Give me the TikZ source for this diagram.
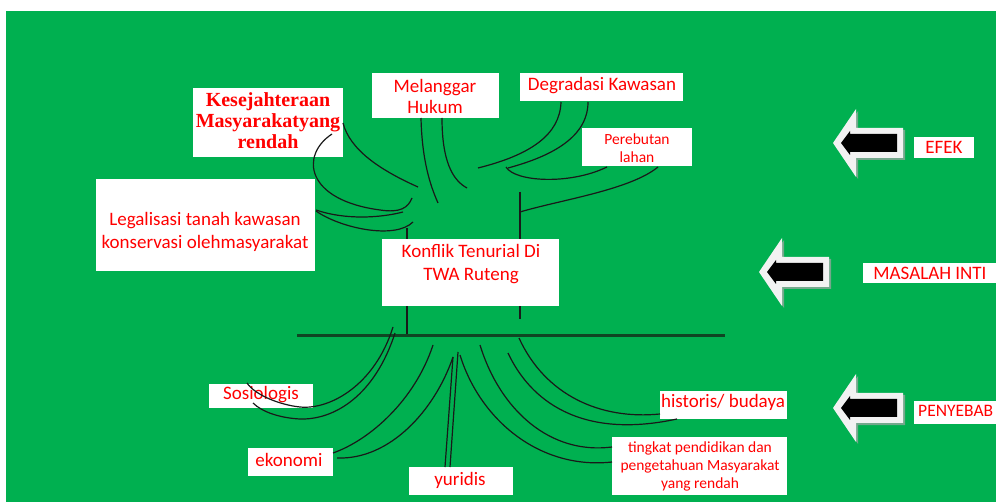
\documentclass[tikz,border=0pt]{standalone}
\usepackage{fontspec}
\setmainfont{Carlito}
\newfontfamily\kesfont{Liberation Serif}
\definecolor{bg}{HTML}{00B050}
\definecolor{txtred}{HTML}{FF0000}
\definecolor{ground}{RGB}{15,70,35}
\definecolor{arrowface}{HTML}{F2F2F2}
\tikzset{
  box/.style={fill=white, inner sep=0pt, anchor=north west},
  lbl/.style={text=txtred, font=\fontsize{19}{21}\selectfont, inner sep=0pt, align=center},
  small/.style={text=txtred, font=\fontsize{15.5}{18}\selectfont, inner sep=0pt, align=center},
  branch/.style={draw=black!90, line width=1.2pt},
  trunk/.style={draw=black!90, line width=1.5pt},
  blockarrow/.pic={
    \fill[black!35, opacity=.7] (2,2) -- (25,-32) -- (25,-13) -- (72,-13) -- (72,17) -- (25,17) -- (25,36) -- cycle;
    \fill[arrowface] (0,0) -- (23,-34) -- (23,-15) -- (70,-15) -- (70,15) -- (23,15) -- (23,34) -- cycle;
    \fill[black] (8,0) -- (17,-12) -- (17,-9) -- (64,-9) -- (64,9) -- (17,9) -- (17,12) -- cycle;
  }
}
\begin{document}
\begin{tikzpicture}[x=1pt,y=-1pt]
\useasboundingbox (0,0) rectangle (996,502);
\clip (0,0) rectangle (996,502);
\fill[white] (0,0) rectangle (996,502);
\fill[bg] (6,11) rectangle (996,502);

% trunk
\draw[trunk] (407,228) -- (407,239);
\draw[trunk] (407,306) -- (407,334);
\draw[trunk] (520,192) -- (520,239);
\draw[trunk] (520,306) -- (520,319);
\draw[ground, line width=3pt] (297,336) -- (725,336);

% boxes
\node[box, minimum width=150, minimum height=69] (kes) at (193,88) {};
\node[box, minimum width=127, minimum height=45] (mel) at (372,73) {};
\node[box, minimum width=163, minimum height=28] (deg) at (520,73) {};
\node[box, minimum width=110, minimum height=38] (per) at (582,128) {};
\node[box, minimum width=219, minimum height=92] (leg) at (96,179) {};
\node[box, minimum width=177, minimum height=67] (kon) at (382,239) {};
\node[box, minimum width=104, minimum height=24] (soc) at (209,384) {};
\node[box, minimum width=85, minimum height=28] (eko) at (248,448) {};
\node[box, minimum width=104, minimum height=28] (yur) at (409,467) {};
\node[box, minimum width=127, minimum height=28] (his) at (660,391) {};
\node[box, minimum width=175, minimum height=58] (tin) at (612,437) {};
\node[box, minimum width=60, minimum height=21] (efekbox) at (914,137) {};
\node[box, minimum width=140, minimum height=20] (masbox) at (863,263) {};
\node[box, minimum width=90, minimum height=23] (penbox) at (914,401) {};

% texts
\node[text=txtred, inner sep=0pt, align=center, font=\kesfont\bfseries\fontsize{20}{21}\selectfont] (kest) at (268,121) {Kesejahteraan\\Masyarakatyang\\rendah};
\node[lbl] (melt) at (435,96) {Melanggar\\Hukum};
\node[lbl, anchor=base] (degt) at (602,91) {Degradasi Kawasan};
\node[small] (pert) at (637,148) {Perebutan\\lahan};
\node[lbl, font=\fontsize{19}{23}\selectfont] (legt) at (205,232) {Legalisasi tanah kawasan\\konservasi olehmasyarakat};
\node[lbl, font=\fontsize{19}{23}\selectfont] (kont) at (471,264) {Konflik Tenurial Di\\TWA Ruteng};
\node[lbl, anchor=base] (soct) at (261,400) {Sosiologis};
\node[lbl, anchor=base] (ekot) at (289,466) {ekonomi};
\node[lbl, anchor=base] (yurt) at (460,485) {yuridis};
\node[lbl, anchor=base] (hist) at (723,408) {historis/ budaya};
\node[small] (tint) at (700,466) {tingkat pendidikan dan\\pengetahuan Masyarakat\\yang rendah};
\node[lbl, anchor=base] (efek) at (944,154) {EFEK};
\node[lbl, anchor=base] (mas) at (930,280) {MASALAH INTI};
\node[lbl, anchor=base west, font=\fontsize{17.5}{21}\selectfont] (pen) at (918,417) {PENYEBAB};

% upper branches
\draw[branch] (343,123) .. controls (350,150) and (380,170) .. (418,187);
\draw[branch] (332,134) .. controls (300,155) and (305,200) .. (380,210) .. controls (400,213) and (408,208) .. (412,198);
\draw[branch] (316,210) .. controls (345,220) and (380,218) .. (403,212);
\draw[branch] (316,211) .. controls (340,228) and (395,240) .. (413,222);
\draw[branch] (421,118) .. controls (422,160) and (430,185) .. (438,203);
\draw[branch] (442,118) .. controls (442,160) and (452,180) .. (467,188);
\draw[branch] (561,102) .. controls (560,135) and (530,155) .. (478,168);
\draw[branch] (588,102) .. controls (588,140) and (545,158) .. (508,168);
\draw[branch] (506,167) .. controls (515,182) and (570,185) .. (607,167);
\draw[branch] (658,167) .. controls (630,190) and (560,200) .. (520,212);

% roots
\draw[branch] (393,327) .. controls (375,385) and (330,410) .. (300,407) .. controls (280,405) and (255,395) .. (247,383);
\draw[branch] (395,333) .. controls (375,395) and (335,420) .. (300,419) .. controls (280,418) and (262,412) .. (253,403);
\draw[branch] (433,345) .. controls (415,400) and (370,440) .. (333,453);
\draw[branch] (453,357) .. controls (435,410) and (390,460) .. (337,458);
\draw[branch] (453,357) -- (445,467);
\draw[branch] (458,352) -- (450,467);
\draw[branch] (460,355) .. controls (480,420) and (540,470) .. (612,462);
\draw[branch] (480,345) .. controls (500,410) and (550,455) .. (612,447);
\draw[branch] (508,353) .. controls (530,400) and (580,440) .. (677,419);
\draw[branch] (519,338) .. controls (545,395) and (600,420) .. (660,414);

% block arrows
\pic (arrowefek) at (833,143) {blockarrow};
\pic (arrowmas) at (759,272) {blockarrow};
\pic (arrowpen) at (833,408) {blockarrow};
\end{tikzpicture}
\end{document}
